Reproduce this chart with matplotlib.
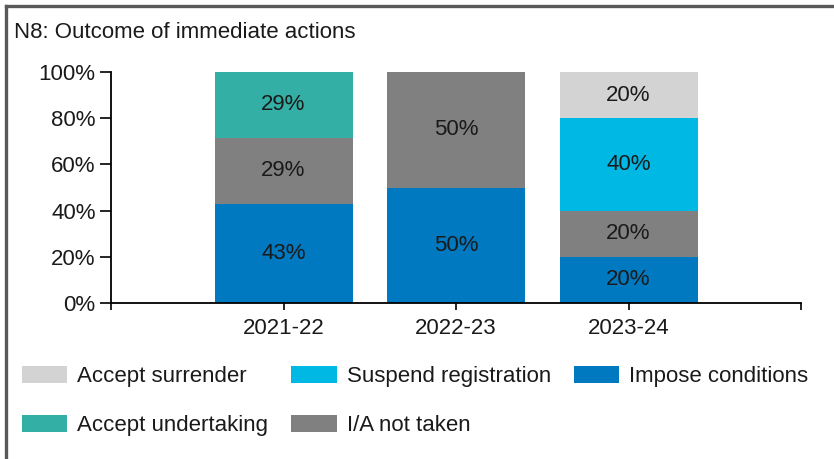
import matplotlib
matplotlib.use("Agg")
import matplotlib.pyplot as plt
from matplotlib.lines import Line2D
from matplotlib.patches import Patch
import numpy as np

plt.rcParams["font.family"] = ["Liberation Sans", "DejaVu Sans"]

years = ["2021-22", "2022-23", "2023-24"]

# stacked from bottom to top
impose_conditions = [42.9, 50.0, 20.0]
ia_not_taken = [28.6, 50.0, 20.0]
accept_undertaking = [28.6, 0.0, 0.0]
suspend_registration = [0.0, 0.0, 40.0]
accept_surrender = [0.0, 0.0, 20.0]

series = [
    ("Impose conditions", impose_conditions, "#0079C1"),
    ("I/A not taken", ia_not_taken, "#808080"),
    ("Accept undertaking", accept_undertaking, "#33AFA6"),
    ("Suspend registration", suspend_registration, "#00B8E4"),
    ("Accept surrender", accept_surrender, "#D3D3D3"),
]

W, H = 834, 459
fig = plt.figure(figsize=(W / 100, H / 100), dpi=100)
ax = fig.add_axes([111 / W, 1 - 303 / H, (801 - 111) / W, (303 - 72) / H])

FS = 16
TXT = "#1a1a1a"
x = np.arange(1, len(years) + 1)
bottom = np.zeros(len(years))
for name, vals, color in series:
    vals = np.array(vals)
    ax.bar(x, vals, 0.8, bottom=bottom, color=color, label=name)
    for xi, b, v in zip(x, bottom, vals):
        if v > 0:
            ax.text(xi, b + v / 2, f"{v:.0f}%", ha="center", va="center",
                    fontsize=FS, color=TXT)
    bottom += vals

ax.set_xlim(0, 4)
ax.set_ylim(0, 100)
ax.set_xticks(range(0, 5))
ax.set_xticklabels([""] + years + [""], fontsize=FS, color=TXT)
ax.set_yticks(range(0, 101, 20))
ax.set_yticklabels([f"{v}%" for v in range(0, 101, 20)], fontsize=FS, color=TXT)
ax.tick_params(axis="y", length=8, width=1.2, pad=3)
ax.tick_params(axis="x", length=5, width=1.2, pad=6)
for s in ["top", "right"]:
    ax.spines[s].set_visible(False)
for s in ["left", "bottom"]:
    ax.spines[s].set_linewidth(1.3)

fig.text(14 / W, 1 - 33 / H, "N8: Outcome of immediate actions",
         fontsize=FS, color=TXT, ha="left", va="center")

colors = {name: c for name, _, c in series}
order = ["Accept surrender", "Accept undertaking", "Suspend registration",
         "I/A not taken", "Impose conditions"]
handles = [Patch(facecolor=colors[n], label=n) for n in order]
fig.legend(handles=handles, ncol=3, loc="upper left",
           bbox_to_anchor=(22 / W, 1 - 366 / H), frameon=False,
           fontsize=FS, handlelength=2.03, handleheight=0.81,
           handletextpad=0.45, columnspacing=1.05, labelspacing=1.24,
           borderpad=0, borderaxespad=0, labelcolor=TXT)

# frame edges visible in the screenshot
fig.add_artist(Line2D([5.5 / W, 1], [1 - 5.5 / H, 1 - 5.5 / H],
                      transform=fig.transFigure, color="#595959", lw=2.4))
fig.add_artist(Line2D([5.5 / W, 5.5 / W], [0, 1 - 5.5 / H],
                      transform=fig.transFigure, color="#595959", lw=2.4))

fig.savefig("out.png", dpi=100)
